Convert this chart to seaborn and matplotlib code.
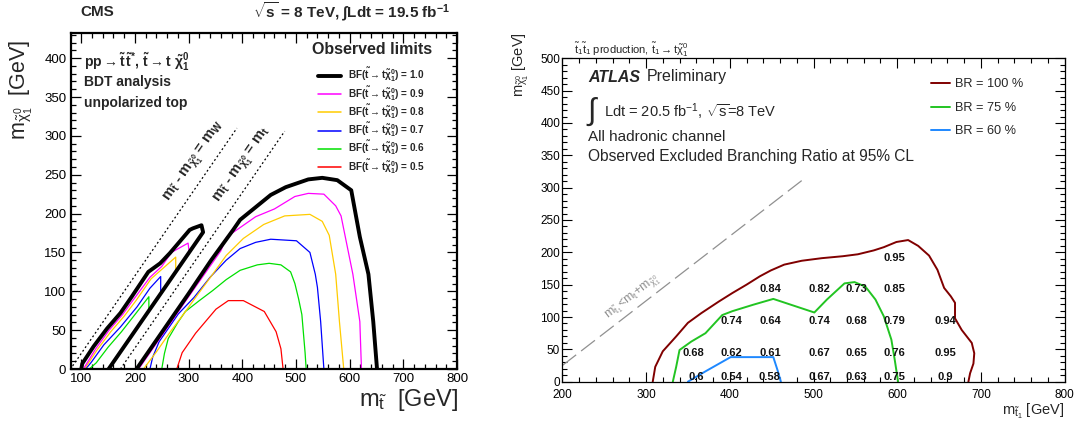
import matplotlib
matplotlib.use("Agg")
import matplotlib.pyplot as plt
import seaborn as sns
from matplotlib.ticker import MultipleLocator
from matplotlib.lines import Line2D

# ---------------- CMS (left) data ----------------
cms_bf_values = ["1.0", "0.9", "0.8", "0.7", "0.6", "0.5"]
cms_colors = ["#000000", "#ff00ff", "#ffcc00", "#0000ff", "#00e000", "#ff0000"]

cms_bf10_main_x = [203, 260, 300, 342, 383, 396, 453, 481, 523, 549, 577, 603, 619, 635, 644, 651]
cms_bf10_main_y = [0, 57, 97, 140, 179, 192, 224, 234, 244, 246, 243, 230, 170, 122, 61, 0]
cms_bf10_strip_x = [100, 102, 123, 148, 173, 194, 225, 247, 265, 302, 308, 324, 327, 151]
cms_bf10_strip_y = [0, 7, 29, 52, 72, 93, 125, 136, 149, 179, 181, 185, 176, 0]

cms_bf09_main_x = [207, 300, 360, 371, 425, 460, 498, 523, 552, 574, 584, 606, 619, 622]
cms_bf09_main_y = [0, 93, 152, 170, 196, 206, 222, 226, 225, 210, 197, 122, 61, 0]
cms_bf09_strip_x = [104, 127, 152, 177, 198, 228, 250, 268, 299, 301, 151]
cms_bf09_strip_y = [0, 26, 50, 70, 90, 118, 132, 150, 162, 151, 0]

cms_bf08_main_x = [216, 240, 265, 290, 315, 345, 370, 402, 440, 479, 526, 549, 562, 574, 581, 589]
cms_bf08_main_y = [0, 22, 47, 70, 94, 122, 146, 168, 186, 197, 199, 190, 172, 122, 61, 0]
cms_bf08_strip_x = [106, 130, 155, 180, 202, 230, 253, 276, 276, 151]
cms_bf08_strip_y = [0, 25, 48, 68, 88, 116, 130, 144, 125, 0]

cms_bf07_main_x = [228, 233, 245, 262, 281, 310, 340, 370, 396, 425, 453, 501, 526, 536, 540, 546, 552]
cms_bf07_main_y = [0, 15, 35, 52, 71, 92, 118, 140, 155, 163, 167, 165, 150, 122, 105, 61, 0]
cms_bf07_strip_x = [108, 118, 142, 173, 204, 228, 248, 248, 151]
cms_bf07_strip_y = [0, 8, 31, 54, 80, 104, 119, 97, 0]

cms_bf06_main_x = [250, 255, 262, 280, 294, 320, 345, 370, 396, 428, 450, 472, 490, 498, 505, 511, 517, 519]
cms_bf06_main_y = [0, 20, 39, 60, 74, 88, 101, 115, 127, 134, 136, 134, 125, 110, 90, 70, 21, 0]
cms_bf06_strip_x = [115, 128, 150, 175, 200, 226, 226, 151]
cms_bf06_strip_y = [0, 8, 28, 48, 70, 93, 75, 0]

cms_bf05_main_x = [278, 288, 313, 351, 374, 402, 441, 463, 472, 476]
cms_bf05_main_y = [0, 21, 46, 77, 88, 88, 74, 48, 26, 0]

cms_mw_line_x = [84, 390]
cms_mw_line_y = [4, 310]
cms_mt_line_x = [173, 479]
cms_mt_line_y = [0, 306]

# ---------------- ATLAS (right) data ----------------
atlas_labels = ["BR = 100 %", "BR = 75 %", "BR = 60 %"]
atlas_colors = ["#800000", "#22c422", "#1e88ff"]

atlas_br100_x = [308, 311, 320, 336, 350, 366, 387, 403, 420, 436, 449, 465, 486, 510, 535, 553, 572,
                 584, 599, 613, 625, 638, 648, 656, 664, 669, 669, 677, 689, 692, 691, 687, 685]
atlas_br100_y = [0, 23, 47, 70, 91, 106, 124, 137, 150, 163, 172, 181, 187, 191, 194, 197, 203,
                 208, 216, 219, 210, 195, 173, 145, 132, 122, 98, 80, 60, 44, 28, 13, 0]
atlas_br75_x = [332, 336, 340, 354, 371, 391, 403, 428, 452, 501, 516, 537, 549, 562, 574, 584, 593, 597, 601]
atlas_br75_y = [0, 23, 49, 62, 75, 103, 109, 119, 128, 107, 127, 152, 154, 147, 127, 101, 65, 34, 0]
atlas_br60_x = [350, 371, 401, 452, 457, 461]
atlas_br60_y = [0, 16, 38, 38, 18, 0]

atlas_kin_x = [200, 490]
atlas_kin_y = [25, 315]

atlas_num_x = [360, 402, 447, 507, 551, 597, 657,
               357, 402, 448, 507, 551, 597, 657,
               402, 448, 507, 551, 597, 657,
               448, 507, 551, 597,
               597]
atlas_num_y = [7] * 7 + [45] * 7 + [94] * 6 + [143] * 4 + [192]
atlas_num_text = ["0.6", "0.54", "0.58", "0.67", "0.63", "0.75", "0.9",
                  "0.68", "0.62", "0.61", "0.67", "0.65", "0.76", "0.95",
                  "0.74", "0.64", "0.74", "0.68", "0.79", "0.94",
                  "0.84", "0.82", "0.73", "0.85",
                  "0.95"]

# ---------------- style ----------------
sns.set_theme(style="ticks")
plt.rcParams["font.family"] = ["Liberation Sans", "DejaVu Sans"]
plt.rcParams["mathtext.fontset"] = "custom"
plt.rcParams["mathtext.rm"] = "Liberation Sans"
plt.rcParams["mathtext.it"] = "Liberation Sans:italic"
plt.rcParams["mathtext.bf"] = "Liberation Sans:bold"
plt.rcParams["mathtext.default"] = "regular"
plt.rcParams["axes.facecolor"] = "white"

W, H = 1078, 425
fig = plt.figure(figsize=(W / 100, H / 100), dpi=100)

L = dict(x0=70.5, x1=457.0, y0=33.3, y1=369.0)
R = dict(x0=562.3, x1=1064.7, y0=58.3, y1=381.7)

def add_ax(b):
    return fig.add_axes([b["x0"] / W, 1 - b["y1"] / H, (b["x1"] - b["x0"]) / W, (b["y1"] - b["y0"]) / H])

def ax_frac(b, px, py):
    return ((px - b["x0"]) / (b["x1"] - b["x0"]), (b["y1"] - py) / (b["y1"] - b["y0"]))

def ftext(px, py, s, **kw):
    fig.text(px / W, 1 - py / H, s, **kw)

axL = add_ax(L)
axR = add_ax(R)

# ---------------- left panel ----------------
mains = [(cms_bf05_main_x, cms_bf05_main_y, 5), (cms_bf06_main_x, cms_bf06_main_y, 4),
         (cms_bf07_main_x, cms_bf07_main_y, 3), (cms_bf08_main_x, cms_bf08_main_y, 2),
         (cms_bf09_main_x, cms_bf09_main_y, 1), (cms_bf10_main_x, cms_bf10_main_y, 0)]
strips = [(cms_bf06_strip_x, cms_bf06_strip_y, 4), (cms_bf07_strip_x, cms_bf07_strip_y, 3),
          (cms_bf08_strip_x, cms_bf08_strip_y, 2), (cms_bf09_strip_x, cms_bf09_strip_y, 1),
          (cms_bf10_strip_x, cms_bf10_strip_y, 0)]
for xs, ys, i in strips + mains:
    sns.lineplot(x=xs, y=ys, sort=False, estimator=None, color=cms_colors[i],
                 lw=2.8 if i == 0 else 0.9, ax=axL, legend=False)

for xs, ys in [(cms_mw_line_x, cms_mw_line_y), (cms_mt_line_x, cms_mt_line_y)]:
    sns.lineplot(x=xs, y=ys, sort=False, estimator=None, color="black", lw=0.9,
                 ax=axL, legend=False, linestyle=(0, (1.5, 2.0)))

axL.set_xlim(80, 800)
axL.set_ylim(0, 432)
axL.set_xlabel("")
axL.set_ylabel("")
axL.xaxis.set_major_locator(MultipleLocator(100))
axL.xaxis.set_minor_locator(MultipleLocator(20))
axL.yaxis.set_major_locator(MultipleLocator(50))
axL.yaxis.set_minor_locator(MultipleLocator(10))
axL.tick_params(which="both", direction="in", top=True, right=True, width=0.9, colors="black",
                labelsize=9.5, pad=3)
axL.tick_params(which="major", length=7)
axL.tick_params(which="minor", length=3.5)
for s in axL.spines.values():
    s.set_linewidth(1.6)
    s.set_color("black")

axL.text(312, 266, r"m$_{\tilde{t}}$ - m$_{\tilde{\chi}^{0}_{1}}$ = m$_{W}$", rotation=55.4,
         rotation_mode="anchor", ha="center", va="center", fontsize=10.5, fontweight="bold")
axL.text(402, 262, r"m$_{\tilde{t}}$ - m$_{\tilde{\chi}^{0}_{1}}$ = m$_{t}$", rotation=55.4,
         rotation_mode="anchor", ha="center", va="center", fontsize=10.5, fontweight="bold")

hL = [Line2D([], [], color=c, lw=2.8 if i == 0 else 1.1) for i, c in enumerate(cms_colors)]
lL = [r"BF($\tilde{t}\rightarrow$t$\tilde{\chi}^{0}_{1}$) = " + v for v in cms_bf_values]
axL.legend(hL, lL, loc="upper left", bbox_to_anchor=ax_frac(L, 318.3, 66.0), frameon=False,
           borderpad=0, borderaxespad=0, handlelength=2.3, handletextpad=0.65,
           labelspacing=0.0, prop={"weight": "bold", "size": 7.2})
ftext(371.7, 50, "Observed limits", fontsize=11.5, fontweight="bold", ha="center", va="center")

ftext(80, 12, "CMS", fontsize=11, fontweight="bold", va="center", ha="left")
ftext(450, 12, r"$\sqrt{s}$ = 8 TeV, $\int$Ldt = 19.5 fb$^{-1}$", fontsize=11, fontweight="bold",
      va="center", ha="right")
ftext(84, 61.5, r"pp$\rightarrow\tilde{t}\,\tilde{t}^{*}$, $\tilde{t}\rightarrow$t $\tilde{\chi}^{0}_{1}$",
      fontsize=10, fontweight="bold", va="center")
ftext(84, 82, "BDT analysis", fontsize=10, fontweight="bold", va="center")
ftext(84, 103, "unpolarized top", fontsize=10, fontweight="bold", va="center")
ftext(458, 406, r"m$_{\tilde{t}}$  [GeV]", fontsize=17, ha="right", va="baseline")
ftext(21, 40, r"m$_{\tilde{\chi}^{0}_{1}}$  [GeV]", fontsize=15.5, rotation=90, ha="center", va="top")

# ---------------- right panel ----------------
for xs, ys, c in [(atlas_br100_x, atlas_br100_y, atlas_colors[0]),
                  (atlas_br75_x, atlas_br75_y, atlas_colors[1]),
                  (atlas_br60_x, atlas_br60_y, atlas_colors[2])]:
    sns.lineplot(x=xs, y=ys, sort=False, estimator=None, color=c, lw=1.4, ax=axR, legend=False)
sns.lineplot(x=atlas_kin_x, y=atlas_kin_y, sort=False, estimator=None, color="#909090", lw=0.9,
             ax=axR, legend=False, linestyle=(0, (14, 5)))

for x, y, t in zip(atlas_num_x, atlas_num_y, atlas_num_text):
    axR.text(x, y, t, ha="center", va="center", fontsize=8, fontweight="bold", color="#111111")

axR.text(284, 131, r"m$_{\tilde{t}_{1}}$<m$_{t}$+m$_{\tilde{\chi}^{0}_{1}}$", rotation=37.7,
         rotation_mode="anchor", ha="center", va="center", fontsize=9, color="#909090")

axR.set_xlim(200, 800)
axR.set_ylim(0, 500)
axR.set_xlabel("")
axR.set_ylabel("")
axR.xaxis.set_major_locator(MultipleLocator(100))
axR.xaxis.set_minor_locator(MultipleLocator(20))
axR.yaxis.set_major_locator(MultipleLocator(50))
axR.yaxis.set_minor_locator(MultipleLocator(10))
axR.tick_params(which="both", direction="in", top=True, right=True, width=0.8, colors="black",
                labelsize=8.5)
axR.tick_params(axis="x", pad=5)
axR.tick_params(axis="y", pad=1.5)
axR.tick_params(which="major", length=7)
axR.tick_params(which="minor", length=3.5)
for s in axR.spines.values():
    s.set_linewidth(0.9)
    s.set_color("black")

hR = [Line2D([], [], color=c, lw=1.4) for c in atlas_colors]
axR.legend(hR, atlas_labels, loc="upper left", bbox_to_anchor=ax_frac(R, 931, 78.5), frameon=False,
           borderpad=0, borderaxespad=0, handlelength=1.5, handletextpad=0.4, labelspacing=0.9,
           fontsize=9.2)

ftext(574.4, 50, r"$\tilde{t}_{1}\tilde{t}_{1}$ production, $\tilde{t}_{1}$$\rightarrow$t$\tilde{\chi}^{0}_{1}$",
      fontsize=8, va="center")
ftext(588, 77, "ATLAS", fontsize=11.5, fontweight="bold", fontstyle="italic", va="center")
ftext(647, 77, "Preliminary", fontsize=11.5, va="center")
ftext(587, 112, "\u222b", fontsize=22, va="center")
ftext(603.6, 112, r"Ldt = 20.5 fb$^{-1}$, $\sqrt{s}$=8 TeV", fontsize=10.5, va="center")
ftext(588, 137, "All hadronic channel", fontsize=11, va="center")
ftext(588, 156, "Observed Excluded Branching Ratio at 95% CL", fontsize=11.2, va="center")
ftext(1064.7, 415, r"m$_{\tilde{t}_{1}}$ [GeV]", fontsize=10.5, ha="right", va="baseline")
ftext(521, 32, r"m$_{\tilde{\chi}^{0}_{1}}$ [GeV]", fontsize=10.5, rotation=90, ha="center", va="top")

fig.savefig("out.png", dpi=100)
